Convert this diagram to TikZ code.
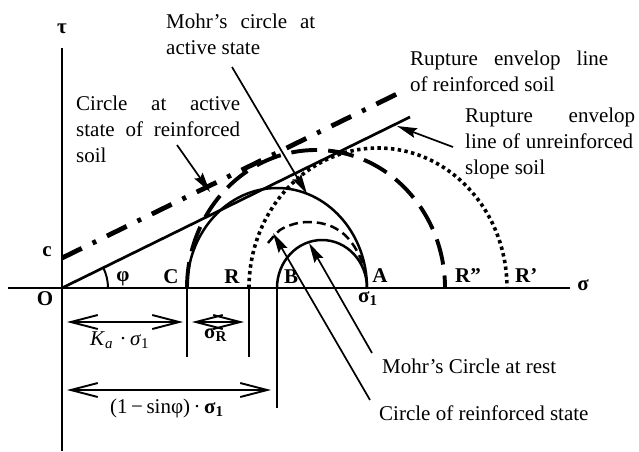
\documentclass[tikz,border=0pt]{standalone}
\usepackage{fontspec}
\setmainfont{Liberation Serif}
\usetikzlibrary{arrows.meta}
\newcommand\sbs[1]{\raisebox{-0.4ex}{\fontsize{15}{15}\selectfont #1}}
\newcommand\jline[2]{\makebox[#1pt][s]{#2}}
\begin{document}
\begin{tikzpicture}[x=1pt,y=-1pt,
  txt/.style={font=\fontsize{21}{26}\selectfont, inner sep=0pt, anchor=base west},
  lett/.style={font=\fontsize{21}{26}\selectfont\bfseries, inner sep=0pt, anchor=base},
  axisline/.style={line width=2.8pt},
  envline/.style={line width=2.7pt},
  dashdotline/.style={line width=4.8pt, dash pattern=on 22pt off 12pt on 4pt off 12pt},
  solidcirc/.style={line width=2.5pt},
  longdash/.style={line width=3.9pt, dash pattern=on 26pt off 11pt},
  dotcirc/.style={line width=3.6pt, dash pattern=on 3.4pt off 3.4pt},
  shortdash/.style={line width=2.5pt, dash pattern=on 9pt off 5pt},
  leader/.style={line width=1.7pt, -{Stealth[length=20pt,width=10pt,inset=3pt]}},
  dimarrow/.style={line width=1.9pt, {Straight Barb[length=27pt,width=14pt]}-{Straight Barb[length=27pt,width=14pt]}},
  tick/.style={line width=2.5pt}
]
\useasboundingbox (0,0) rectangle (639,451);

% key points
\coordinate (O) at (62,288);
\coordinate (Cp) at (187,288);
\coordinate (Rp) at (249,288);
\coordinate (Bp) at (277,288);
\coordinate (Ap) at (367,288);
\coordinate (R2p) at (445,288);
\coordinate (R1p) at (507,288);
\coordinate (cp) at (62,258);

% axes
\coordinate (sigL) at (8,288);
\coordinate (sigR) at (570,288);
\coordinate (tauT) at (62,48);
\coordinate (tauB) at (62,451);
\draw[axisline] (sigL) -- (sigR);
\draw[axisline] (tauT) -- (tauB);

% envelopes
\coordinate (envE) at (410,117);
\coordinate (ddE) at (403,91);
\draw[envline] (O) -- (envE);
\draw[dashdotline] (cp) -- (ddE);

% phi arc
\draw[line width=2pt] (108,288) arc[start angle=0, end angle=-26.2, radius=46];

% circles
\draw[longdash] (Cp) arc[start angle=180, end angle=360, x radius=129, y radius=138];
\draw[dotcirc] (Rp) arc[start angle=180, end angle=360, x radius=129, y radius=140];
\draw[solidcirc] (Cp) arc[start angle=180, end angle=360, x radius=90, y radius=100];
\draw[solidcirc] (Bp) arc[start angle=180, end angle=360, x radius=45, y radius=48];
\draw[shortdash] plot[smooth] coordinates {(268,243) (280,230) (294,224) (307,222) (320,223) (333,227) (345,235) (354,246) (360,257) (365,268)};

% ticks below axis
\coordinate (Cd) at (187,357);
\coordinate (Rd) at (249,357);
\coordinate (Bd) at (277,408);
\draw[tick] (Cp) -- (Cd);
\draw[tick] (Rp) -- (Rd);
\draw[tick] (Bp) -- (Bd);

% dimension arrows
\coordinate (k1) at (67,322);
\coordinate (k2) at (183,322);
\coordinate (s1) at (192,322);
\coordinate (s2) at (244,322);
\coordinate (m1) at (67,390);
\coordinate (m2) at (271,390);
\draw[dimarrow] (k1) -- (k2);
\draw[dimarrow] (s1) -- (s2);
\draw[dimarrow] (m1) -- (m2);

% axis letters
\node[lett] (tau) at (62,33) {τ};
\node[lett] (sig) at (583,290) {σ};
\node[lett] (clab) at (47,256) {c};
\node[lett] (olab) at (45,305) {O};
\node[lett] (philab) at (123,281) {φ};
\node[lett] (Clab) at (171,283) {C};
\node[lett] (Rlab) at (232,283) {R};
\node[lett] (Blab) at (291,283) {B};
\node[lett] (Alab) at (380,282) {A};
\node[lett, anchor=base west] (s1lab) at (358,302) {σ\sbs{1}};
\node[lett, anchor=base west] (R2lab) at (455,282) {R”};
\node[lett, anchor=base west] (R1lab) at (515,282) {R’};

% dimension labels
\node[txt] (kalab) at (90,345) {\textit{K}\sbs{\textit{a}}\,\,·\,\textit{σ}\sbs{1}};
\node[txt] (srlab) at (204,338) {\textbf{σ\sbs{R}}};
\node[txt] (mlab) at (110,413) {(1\,−\,sinφ)\,·\,\textbf{σ\sbs{1}}};

% text labels
\node[txt] (t1) at (166,28) {\begin{tabular}[t]{@{}l@{}}\jline{149}{Mohr’s circle at}\\ active state\end{tabular}};
\node[txt] (t2) at (76,110) {\begin{tabular}[t]{@{}l@{}}\jline{164}{Circle at active}\\ \jline{164}{state of reinforced}\\ soil\end{tabular}};
\node[txt] (t3) at (410,65) {\begin{tabular}[t]{@{}l@{}}\jline{198}{Rupture envelop line}\\ of reinforced soil\end{tabular}};
\node[txt] (t4) at (465,122) {\begin{tabular}[t]{@{}l@{}}\jline{170}{Rupture envelop}\\ \jline{168}{line of unreinforced}\\ slope soil\end{tabular}};
\node[txt] (t5) at (382,373) {Mohr’s Circle at rest};
\node[txt] (t6) at (379,420) {Circle of reinforced state};

% leaders
\coordinate (l1s) at (232,67);  \coordinate (l1e) at (307,194);
\coordinate (l2s) at (177,145); \coordinate (l2e) at (210,192);
\coordinate (l3s) at (453,147); \coordinate (l3e) at (397,126);
\coordinate (l4s) at (372,353); \coordinate (l4e) at (309,243);
\coordinate (l5s) at (370,400); \coordinate (l5e) at (273,233);
\draw[leader] (l1s) -- (l1e);
\draw[leader] (l2s) -- (l2e);
\draw[leader] (l3s) -- (l3e);
\draw[leader] (l4s) -- (l4e);
\draw[leader] (l5s) -- (l5e);
\end{tikzpicture}
\end{document}
